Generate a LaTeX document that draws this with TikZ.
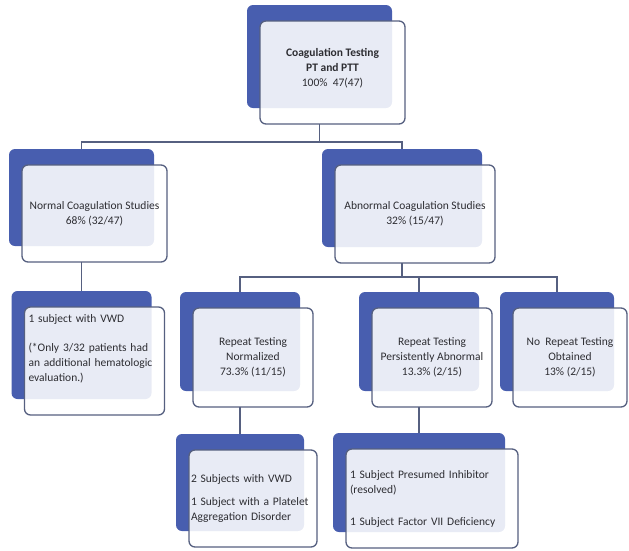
\documentclass[tikz,border=0pt]{standalone}
\usepackage{fontspec}
\setmainfont{Carlito}
\usetikzlibrary{positioning,shadows}
\definecolor{backblue}{RGB}{72,94,175}
\definecolor{frame}{RGB}{86,96,128}
\definecolor{ink}{RGB}{45,45,50}

\begin{document}
\begin{tikzpicture}[x=1pt, y=-1pt,
    stage/.style={rectangle, rounded corners=6pt, draw=frame, line width=1.3pt,
        fill=white, fill opacity=0.88, text opacity=1, text=ink,
        align=center, inner sep=2pt, outer sep=0pt,
        font=\fontsize{11.5}{15}\selectfont,
        copy shadow={shadow xshift=-13pt, shadow yshift=16pt,
            fill=backblue, fill opacity=1, draw=none}},
    note/.style={stage, align=left, inner xsep=4pt},
    link/.style={draw=frame, line width=1.3pt}
]
\useasboundingbox (0,0) rectangle (629,550);

\node (Testing) [stage, minimum width=145pt, minimum height=103pt] at (332.5,72.5)
    {\textbf{Coagulation Testing}\\\textbf{PT and PTT}\\100\%\ \ 47(47)\\[-4pt]~};

\node (Normal) [stage, minimum width=145pt, minimum height=97pt] at (94.5,213.5)
    {Normal Coagulation Studies\\68\% (32/47)};
\node (Abnormal) [stage, minimum width=160pt, minimum height=98pt] at (415,214)
    {Abnormal Coagulation Studies\\32\% (15/47)};

\node (OneVWD) [note, text width=132pt, minimum height=108pt] at (94.5,361)
    {1 subject with VWD\\[14pt](*Only 3/32 patients had\\an additional hematologic\\evaluation.)\\[12pt]~};
\node (RepeatNormal) [stage, minimum width=120pt, minimum height=99pt] at (253,357.5)
    {Repeat Testing\\Normalized\\73.3\% (11/15)};
\node (RepeatAbnormal) [stage, minimum width=120pt, minimum height=99pt] at (432,357.5)
    {Repeat Testing\\Persistently Abnormal\\13.3\% (2/15)};
\node (NoRepeat) [stage, minimum width=114pt, minimum height=99pt] at (570,357.5)
    {No\ \ Repeat Testing\\Obtained\\13\% (2/15)};

\node (TwoVWD) [note, inner xsep=2pt, text width=124pt, minimum height=97pt] at (253,498.5)
    {2 Subjects with VWD\\[8pt]1 Subject with a Platelet\\Aggregation Disorder};
\node (Inhibitor) [note, text width=164pt, minimum height=99pt] at (432,498.5)
    {1 Subject Presumed Inhibitor\\(resolved)\\[17pt]1 Subject Factor VII Deficiency};

\draw[link] ([xshift=-13pt]Testing.south) -- ++(0,18) -| ([xshift=-13pt,yshift=16pt]Normal.north);
\draw[link] ([xshift=-13pt]Testing.south) -- ++(0,18) -| ([xshift=-13pt,yshift=16pt]Abnormal.north);
\draw[link] ([xshift=-13pt]Normal.south) -- ([xshift=-13pt,yshift=16pt]OneVWD.north);
\draw[link] ([xshift=-13pt]Abnormal.south) -- ++(0,14) -| ([xshift=-13pt,yshift=16pt]RepeatNormal.north);
\draw[link] ([xshift=-13pt]Abnormal.south) -- ++(0,14) -| ([xshift=-13pt,yshift=16pt]RepeatAbnormal.north);
\draw[link] ([xshift=-13pt]Abnormal.south) -- ++(0,14) -| ([xshift=-13pt,yshift=16pt]NoRepeat.north);
\draw[link] ([xshift=-13pt]RepeatNormal.south) -- ([xshift=-13pt,yshift=16pt]TwoVWD.north);
\draw[link] ([xshift=-13pt]RepeatAbnormal.south) -- ([xshift=-13pt,yshift=16pt]Inhibitor.north);
\end{tikzpicture}
\end{document}
